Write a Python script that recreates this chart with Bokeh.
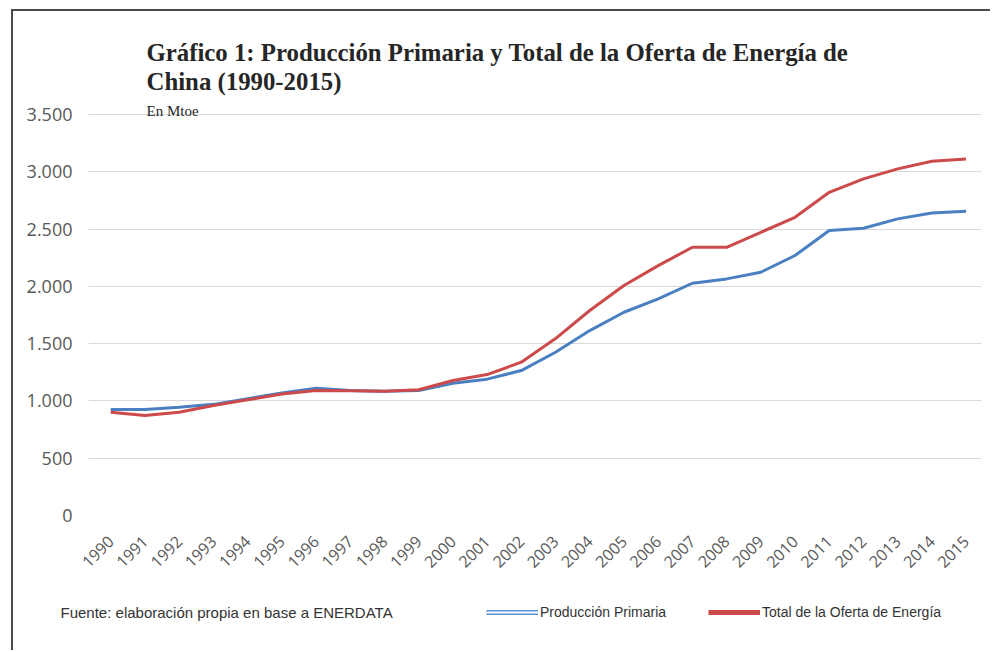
import math
from bokeh.plotting import figure
from bokeh.layouts import column, row
from bokeh.models import Range1d, FixedTicker, Label, Legend, LegendItem, Div, Spacer
from bokeh.embed import file_html
from bokeh.resources import INLINE

years = list(range(1990, 2016))
produccion = [925, 925, 945, 970, 1020, 1070, 1110, 1090, 1085, 1090, 1155, 1190, 1265,
              1425, 1614, 1774, 1891, 2027, 2065, 2123, 2269, 2487, 2507, 2589, 2641, 2655]
oferta = [901, 873, 901, 960, 1010, 1060, 1090, 1088, 1085, 1097, 1178, 1230, 1338,
          1544, 1789, 2007, 2181, 2341, 2341, 2472, 2603, 2821, 2938, 3025, 3092, 3112]
y_ticks = [0, 500, 1000, 1500, 2000, 2500, 3000, 3500]
y_tick_labels = ["0", "500", "1.000", "1.500", "2.000", "2.500", "3.000", "3.500"]

title_1 = "Gráfico 1: Producción Primaria y Total de la Oferta de Energía de"
title_2 = "China (1990-2015)"
subtitle = "En Mtoe"
source = "Fuente: elaboración propia en base a ENERDATA"
name_prod = "Producción Primaria"
name_oferta = "Total de la Oferta de Energía"

BLUE = "#4a80c2"
RED = "#cc4a4a"
TICK = "#595959"
DARK = "#262626"
BORDER = "#4a4a4a"

# ---------------- main chart ----------------
p = figure(width=969, height=569, output_backend="svg", toolbar_location=None,
           x_range=Range1d(1989.35, 2015.45), y_range=Range1d(0, 4233),
           min_border_left=75, min_border_right=1, min_border_top=19, min_border_bottom=65)
p.frame_align = False
p.outline_line_color = None
p.background_fill_color = "white"
p.border_fill_color = "white"

p.xgrid.grid_line_color = None
p.ygrid.grid_line_color = "#d9d9d9"
p.ygrid.grid_line_width = 1

p.yaxis.ticker = FixedTicker(ticks=y_ticks)
p.yaxis.major_label_overrides = {t: l for t, l in zip(y_ticks, y_tick_labels)}
p.xaxis.ticker = FixedTicker(ticks=years)
p.xaxis.major_label_overrides = {y: str(y) for y in years}
p.xaxis.major_label_orientation = math.pi / 4
for ax in (p.xaxis, p.yaxis):
    ax.axis_line_color = None
    ax.major_tick_line_color = None
    ax.minor_tick_line_color = None
    ax.major_label_text_color = TICK
    ax.major_label_text_font = "Open Sans"
p.yaxis.major_label_text_font_size = "18px"
p.yaxis.major_label_standoff = 10
p.xaxis.major_label_text_font_size = "16px"
p.xaxis.major_label_standoff = 17

p.line(years, produccion, line_color=BLUE, line_width=3)
p.line(years, oferta, line_color=RED, line_width=3)

p.add_layout(Label(x=58, y=463, x_units="screen", y_units="screen", text=title_1,
                   text_font="Liberation Serif", text_font_style="bold",
                   text_font_size="24.8px", text_color=DARK, text_baseline="middle"))
p.add_layout(Label(x=58, y=434, x_units="screen", y_units="screen", text=title_2,
                   text_font="Liberation Serif", text_font_style="bold",
                   text_font_size="24.8px", text_color=DARK, text_baseline="middle"))
p.add_layout(Label(x=58, y=405, x_units="screen", y_units="screen", text=subtitle,
                   text_font="Liberation Serif", text_font_size="15px",
                   text_color=DARK, text_baseline="middle"))

# ---------------- footer: source + legend ----------------
f = figure(width=969, height=62, output_backend="svg", toolbar_location=None,
           x_range=Range1d(0, 1), y_range=Range1d(0, 1),
           min_border=0, min_border_left=0, min_border_right=0,
           min_border_top=0, min_border_bottom=0,
           x_axis_type=None, y_axis_type=None)
f.frame_align = False
f.outline_line_color = None
f.grid.grid_line_color = None
f.border_fill_color = "white"

# legend sample renderers: same series, outside the footer's visible ranges
lp_outer = f.line(years, produccion, line_color="#5b8fd0", line_width=5)
lp_inner = f.line(years, produccion, line_color="white", line_width=2)
lo = f.line(years, oferta, line_color=RED, line_width=5)

legend = Legend(items=[LegendItem(label=name_prod, renderers=[lp_outer, lp_inner]),
                       LegendItem(label=name_oferta, renderers=[lo])],
                orientation="horizontal", location=(473, 20),
                glyph_width=52, label_standoff=2, spacing=42, padding=0, margin=0,
                border_line_color=None, background_fill_alpha=0,
                label_text_font="Liberation Sans", label_text_font_size="14px",
                label_text_color="#333333")
f.add_layout(legend)

f.add_layout(Label(x=47, y=30, x_units="screen", y_units="screen", text=source,
                   text_font="Liberation Sans", text_font_size="15px",
                   text_color="#333333", text_baseline="middle"))

# ---------------- frame lines (left and top border of the picture) ----------------
vbar = Div(text="", width=2, height=641, margin=0, styles={"background-color": BORDER})
hbar = Div(text="", width=977, height=2, margin=0, styles={"background-color": BORDER})

layout = column(Spacer(height=9, margin=0),
                row(Spacer(width=11, margin=0), vbar,
                    column(hbar, p, f, spacing=0), spacing=0),
                spacing=0)

open("out.html", "w").write(file_html(layout, INLINE))
